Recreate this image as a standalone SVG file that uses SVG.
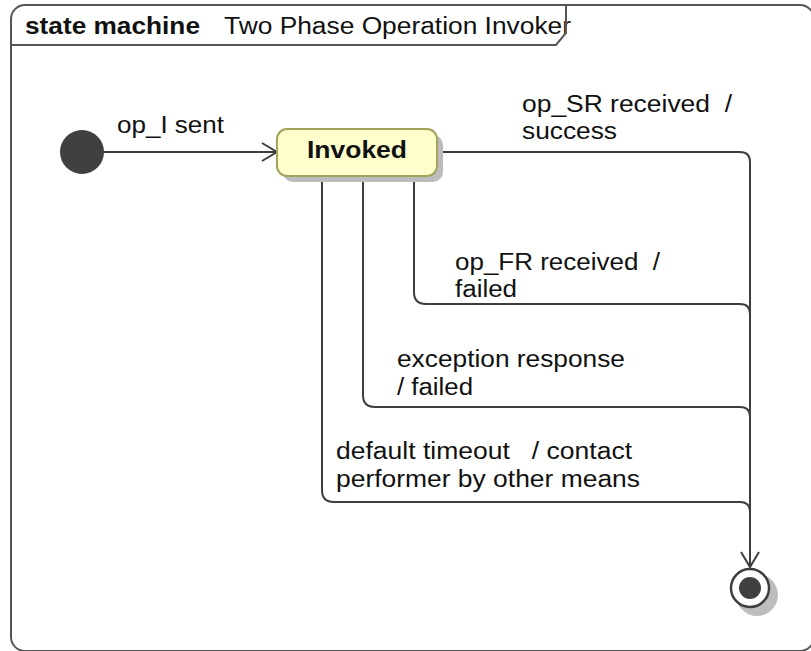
<svg xmlns="http://www.w3.org/2000/svg" width="811" height="651" viewBox="0 0 811 651">
<style>
text{font-family:"Liberation Sans",Arial,sans-serif;font-size:23px;fill:#111;white-space:pre;}
.b{font-weight:bold;}
.edge{fill:none;stroke:#3d3d3d;stroke-width:2;}
.frame{fill:none;stroke:#555;stroke-width:2;}
</style>
<rect width="811" height="651" fill="#fff"/>
<g id="frame">
<rect class="frame" x="11" y="5" width="803" height="646" rx="14" ry="14"/>
<text class="b" x="25" y="34" textLength="175" lengthAdjust="spacingAndGlyphs" font-size="24">state machine</text>
<text x="224" y="34" textLength="347" lengthAdjust="spacingAndGlyphs" font-size="24">Two Phase Operation Invoker</text>
<path class="frame" d="M11,45 H556 L566,33 V5"/>
</g>
<g id="connectors">
<path class="edge" d="M104,152 H277"/>
<polyline class="edge" points="262,143 277,152 262,161"/>
<path class="edge" d="M437,152 H740 Q750,152 750,162 V567"/>
<path class="edge" d="M414,176 V292 Q414,304 426,304 H740 Q750,304 750,314"/>
<path class="edge" d="M363,176 V395 Q363,407 375,407 H740 Q750,407 750,417"/>
<path class="edge" d="M322,176 V490 Q322,502 334,502 H740 Q750,502 750,512"/>
<polyline class="edge" points="741,552 750,567 759,552"/>
<text x="117" y="133" textLength="107" lengthAdjust="spacingAndGlyphs">op_I sent</text>
<text x="522" y="112" textLength="210" lengthAdjust="spacingAndGlyphs">op_SR received  /</text>
<text x="522" y="139" textLength="95" lengthAdjust="spacingAndGlyphs">success</text>
<text x="455" y="270" textLength="205" lengthAdjust="spacingAndGlyphs">op_FR received  /</text>
<text x="455" y="297" textLength="62" lengthAdjust="spacingAndGlyphs">failed</text>
<text x="397" y="367" textLength="228" lengthAdjust="spacingAndGlyphs">exception response</text>
<text x="397" y="395" textLength="76" lengthAdjust="spacingAndGlyphs">/ failed</text>
<text x="336" y="459" textLength="296" lengthAdjust="spacingAndGlyphs">default timeout   / contact</text>
<text x="336" y="487" textLength="304" lengthAdjust="spacingAndGlyphs">performer by other means</text>
</g>
<g id="initial">
<circle cx="82" cy="152" r="22" fill="#404040"/>
</g>
<g id="invoked">
<rect x="283" y="135" width="160" height="47" rx="10" ry="10" fill="#bcbcbc"/>
<rect x="277" y="129" width="160" height="47" rx="10" ry="10" fill="#ffffcc" stroke="#a3a35c" stroke-width="2"/>
<text class="b" x="307" y="158" textLength="100" lengthAdjust="spacingAndGlyphs" font-size="24">Invoked</text>
</g>
<g id="final">
<circle cx="757" cy="595" r="21" fill="#bdbdbd"/>
<circle cx="750" cy="588" r="19" fill="#fff" stroke="#3d3d3d" stroke-width="2.5"/>
<circle cx="750" cy="588" r="11" fill="#404040"/>
</g>
</svg>
